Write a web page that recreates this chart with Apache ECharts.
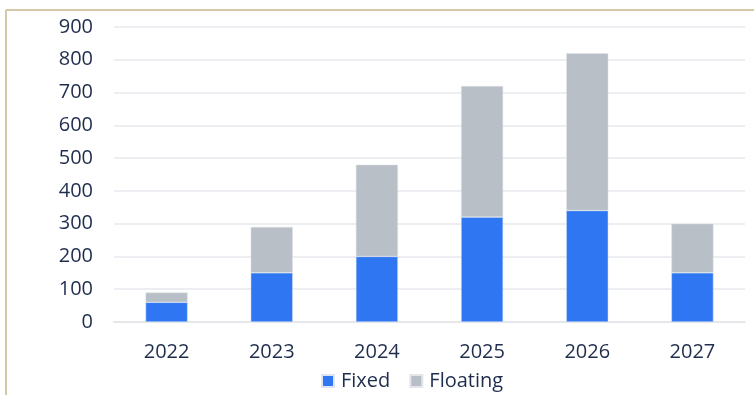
<!DOCTYPE html>
<html><head><meta charset="utf-8">
<script src="https://cdn.jsdelivr.net/npm/echarts@6/dist/echarts.min.js"></script>
<style>html,body{margin:0;padding:0;background:#fff}#c{width:754px;height:395px}</style>
</head><body><div id="c"></div>
<script>
const categories = ['2022','2023','2024','2025','2026','2027'];
const fixed = [60,150,200,320,340,150];
const floating = [30,140,280,400,480,150];
const yTicks = {min:0,max:900,interval:100};
const chart = echarts.init(document.getElementById('c'));
const font = '"Open Sans", "Noto Sans", sans-serif';
chart.setOption({
  animation:false,
  textStyle:{fontFamily:font},
  graphic:[
    {type:'line',shape:{x1:6,y1:10,x2:754,y2:10},style:{stroke:'#d5c6a5',lineWidth:2}},
    {type:'line',shape:{x1:6,y1:10,x2:6,y2:395},style:{stroke:'#d5c6a5',lineWidth:2}}
  ],
  grid:{left:114,right:9,top:27,bottom:73},
  legend:{top:366,left:316,itemWidth:12,itemHeight:12,itemGap:19,icon:'rect',
    textStyle:{fontSize:20,color:'#1f2d4d',fontFamily:font,padding:[0,0,0,2]},data:['Fixed','Floating']},
  xAxis:{type:'category',data:categories,axisLine:{show:true,lineStyle:{color:'#e6e7ea',width:2}},axisTick:{show:false},
    axisLabel:{fontSize:20,color:'#1f2d4d',margin:20,fontFamily:font}},
  yAxis:{type:'value',min:yTicks.min,max:yTicks.max,interval:yTicks.interval,
    axisLine:{show:false},axisTick:{show:false},
    splitLine:{lineStyle:{color:'#eceef1',width:2}},
    axisLabel:{fontSize:20,color:'#1f2d4d',margin:21,fontFamily:font}},
  series:[
    {name:'Fixed',type:'bar',stack:'a',data:fixed,barWidth:'40%',itemStyle:{color:'#2f76f2',borderColor:'#dfe6f2',borderWidth:0.5}},
    {name:'Floating',type:'bar',stack:'a',data:floating,barWidth:'40%',itemStyle:{color:'#b8bfc7',borderColor:'#e3e5e8',borderWidth:0.5}}
  ]
});
</script></body></html>
